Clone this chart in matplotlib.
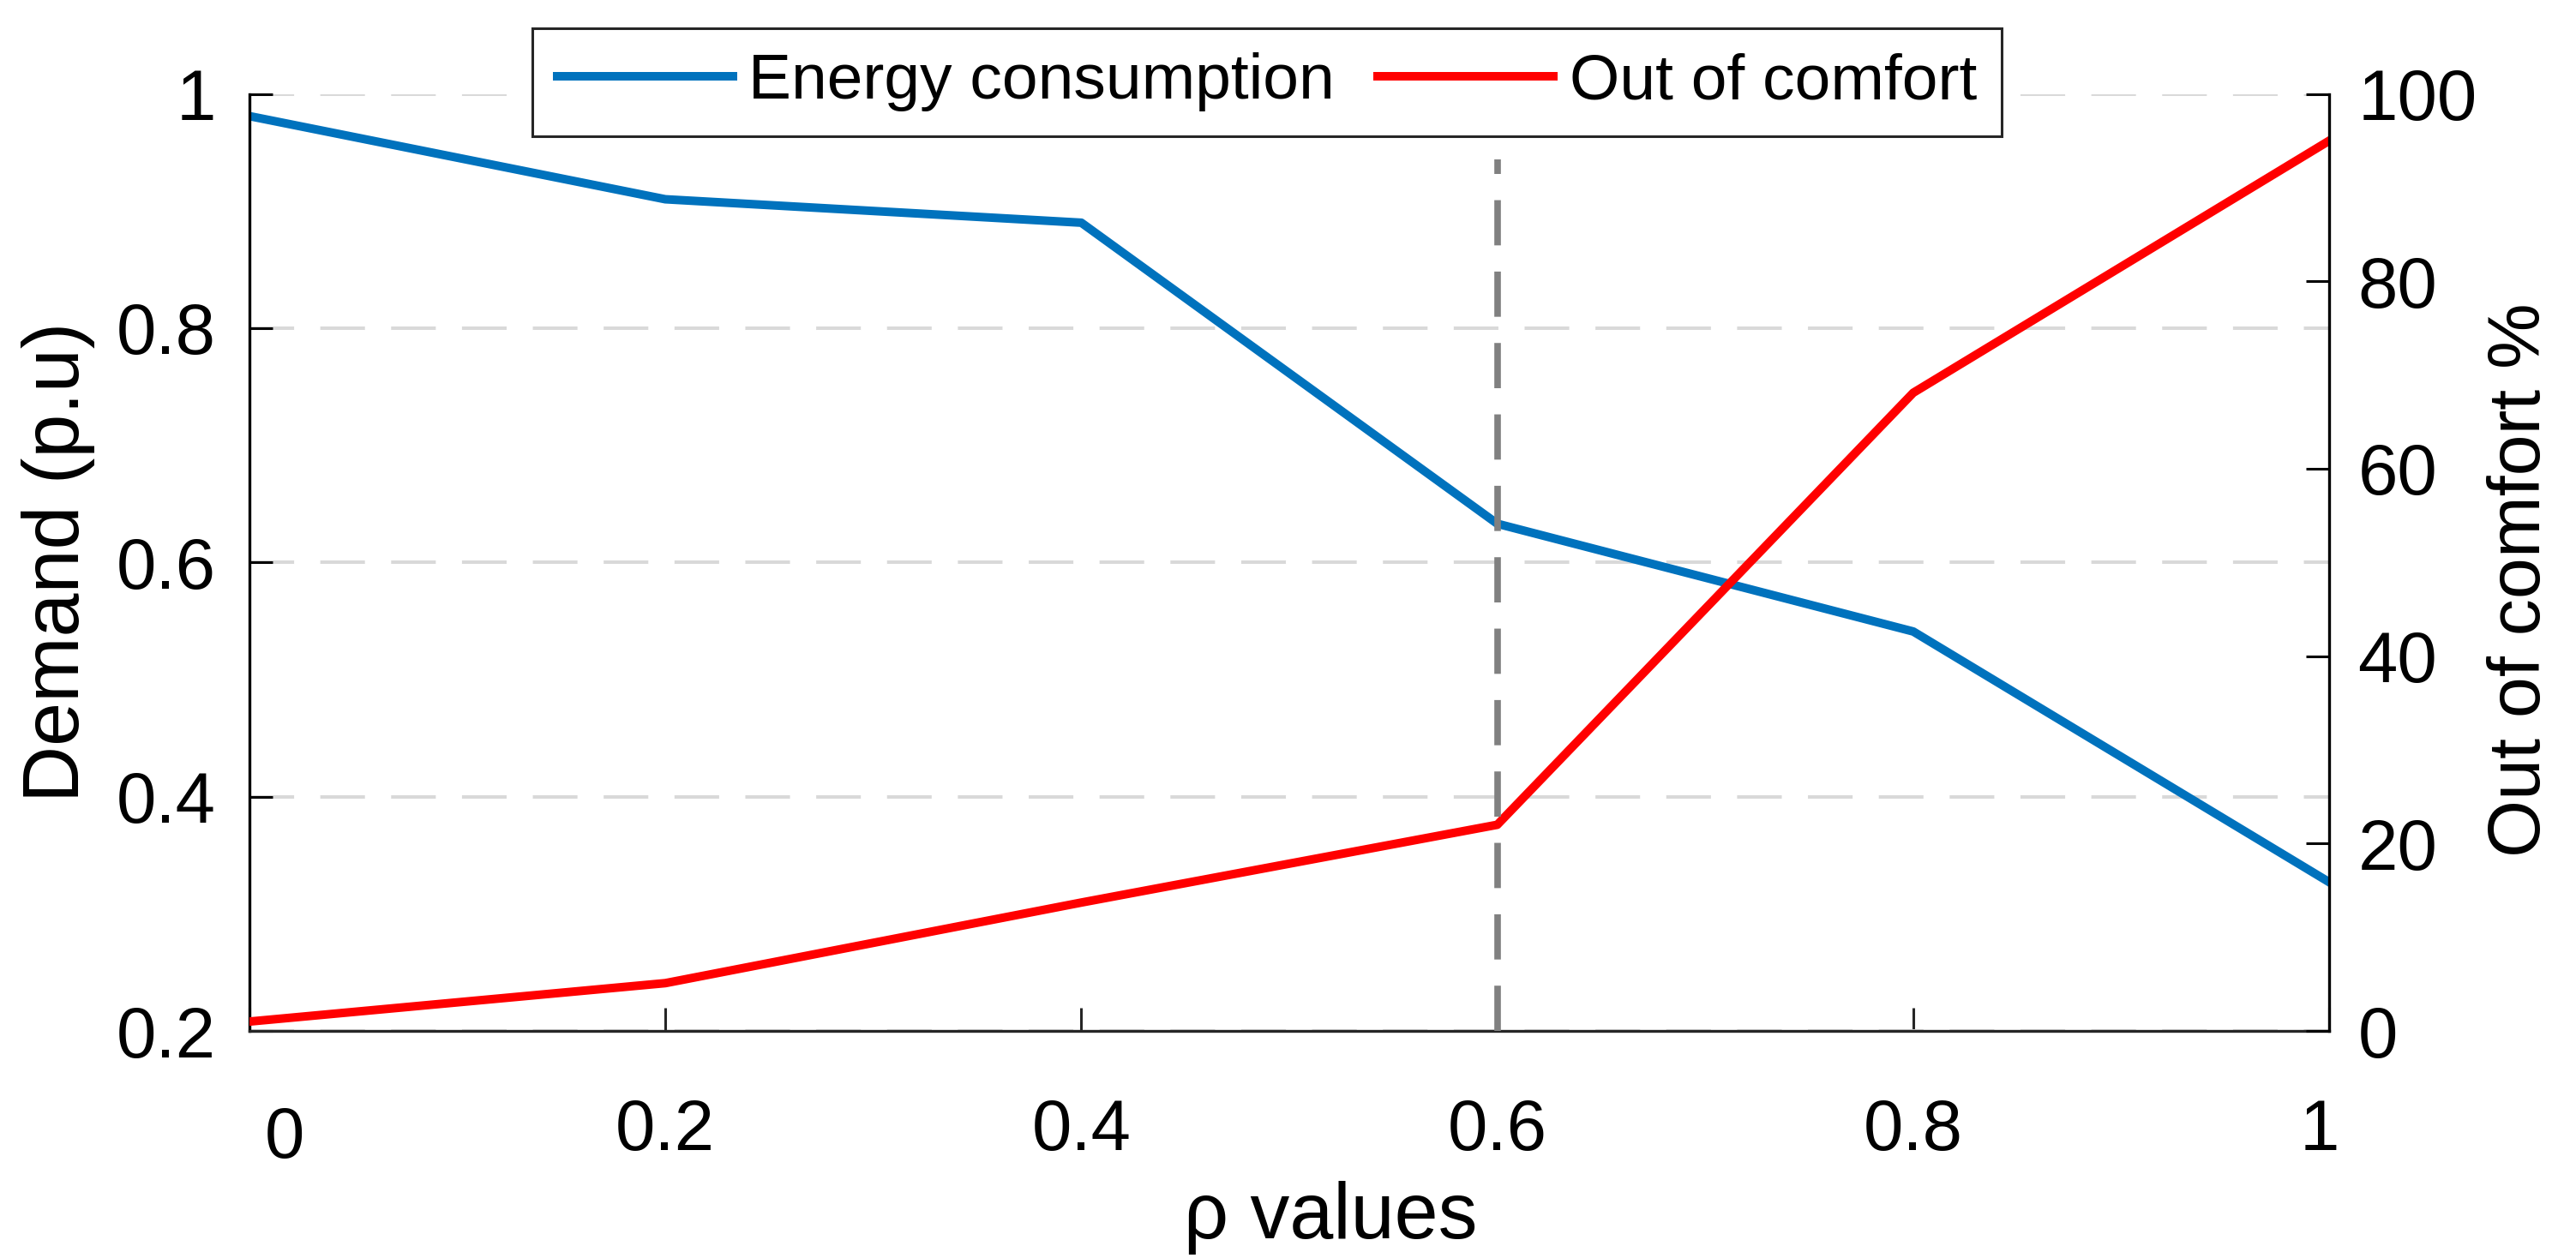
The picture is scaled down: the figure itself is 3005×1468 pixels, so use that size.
import matplotlib
matplotlib.use("Agg")
import matplotlib.pyplot as plt
from matplotlib.transforms import ScaledTranslation

# data
rho = [0, 0.2, 0.4, 0.6, 0.8, 1.0]
energy = [0.981, 0.910, 0.890, 0.633, 0.541, 0.327]
out_of_comfort = [1.0, 5.1, 13.7, 22.0, 68.1, 95.0]

marker_rho = [0.6, 0.6]
marker_span = [0, 93]  # right-axis units (%)

x_ticks = [0, 0.2, 0.4, 0.6, 0.8, 1]
x_labels = ["0", "0.2", "0.4", "0.6", "0.8", "1"]
left_ticks = [0.2, 0.4, 0.6, 0.8, 1]
left_labels = ["0.2", "0.4", "0.6", "0.8", "1"]
right_ticks = [0, 20, 40, 60, 80, 100]
right_labels = ["0", "20", "40", "60", "80", "100"]

plt.rcParams["font.family"] = ["Liberation Sans", "DejaVu Sans"]
plt.rcParams["lines.scale_dashes"] = False

BLUE = "#0072BD"
RED = "#FF0000"
DARK = "#262626"
GRID = "#d9d9d9"

fig = plt.figure(figsize=(30.05, 14.68), dpi=100)
ax = fig.add_axes([0.0968, 0.1805, 0.8074, 0.7449])
ax2 = ax.twinx()

l1, = ax.plot(rho, energy, color=BLUE, lw=7.2, label="Energy consumption")
l2, = ax2.plot(rho, out_of_comfort, color=RED, lw=7.2, label="Out of comfort")
ax2.plot(marker_rho, marker_span, color="#808080", lw=5.5, linestyle=(0, (38, 22)))

ax.set_xlim(0, 1)
ax.set_ylim(0.2, 1)
ax2.set_ylim(0, 100)

ax.set_xticks(x_ticks, x_labels)
ax.set_yticks(left_ticks, left_labels)
ax2.set_yticks(right_ticks, right_labels)

ax.yaxis.grid(True, color=GRID, lw=2.9, linestyle=(0, (37.5, 22)))
ax.xaxis.grid(False)

# spines
ax.spines["top"].set_visible(False)
ax.spines["right"].set_visible(False)
ax.spines["left"].set_color("black")
ax.spines["bottom"].set_color(DARK)
for s in ["top", "left", "bottom"]:
    ax2.spines[s].set_visible(False)
ax2.spines["right"].set_color("black")
for sp in [ax.spines["left"], ax.spines["bottom"], ax2.spines["right"]]:
    sp.set_linewidth(2.4)

ax.tick_params(axis="y", direction="in", length=19.5, width=2.2, color="black",
               labelsize=60, pad=28)
ax.tick_params(axis="x", direction="in", length=19.5, width=2.2, color=DARK,
               labelcolor="black", labelsize=60, pad=56)
ax2.tick_params(axis="y", direction="in", length=19.5, width=2.2, color="black",
                labelsize=60, pad=24)

# MATLAB nudges the end labels of the x axis
xt = ax.get_xticklabels()
xt[0].set_transform(xt[0].get_transform() + ScaledTranslation(0.41, -0.09, fig.dpi_scale_trans))
xt[-1].set_transform(xt[-1].get_transform() + ScaledTranslation(-0.11, 0, fig.dpi_scale_trans))

ax.set_xlabel("ρ values", fontsize=66, labelpad=7)
ax.xaxis.label.set_x(0.52)
ax.set_ylabel("Demand (p.u)", fontsize=66, labelpad=18)
ax2.set_ylabel("Out of comfort %", fontsize=62, labelpad=8)
ax2.yaxis.label.set_y(0.481)

leg = ax2.legend([l1, l2], [l1.get_label(), l2.get_label()],
                 loc="upper center", bbox_to_anchor=(1478 / 3005, 1 - 33 / 1468),
                 bbox_transform=fig.transFigure, ncol=2, fontsize=54,
                 handlelength=2.73, handletextpad=0.25, columnspacing=0.67,
                 borderpad=0.38, borderaxespad=0, frameon=True, fancybox=False,
                 edgecolor=DARK, framealpha=1)
leg.get_frame().set_linewidth(2.2)

fig.savefig("out.png", dpi=100, facecolor="white")
